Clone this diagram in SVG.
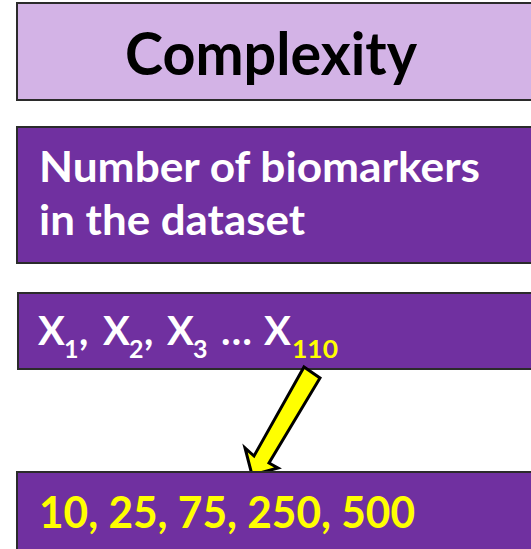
<svg xmlns="http://www.w3.org/2000/svg" width="531" height="549" viewBox="0 0 531 549">
<style>
.box{stroke:#2b2b2b;stroke-width:2}
.t{font-family:Lato,"Open Sans","Liberation Sans",sans-serif;font-weight:bold}
.w{fill:#ffffff}
.y{fill:#ffff00}
.s{font-size:25px}
</style>
<rect width="531" height="549" fill="#ffffff"/>
<g id="complexity">
<rect class="box" x="17" y="3" width="530" height="97" fill="#D3B3E6"/>
<text class="t" x="125" y="75" font-size="60" fill="#000000" textLength="292" lengthAdjust="spacingAndGlyphs">Complexity</text>
</g>
<g id="number-biomarkers">
<rect class="box" x="17" y="127" width="530" height="136" fill="#7030A0"/>
<text class="t w" x="39" y="182" font-size="42" textLength="441" lengthAdjust="spacingAndGlyphs">Number of biomarkers</text>
<text class="t w" x="39" y="235" font-size="42" textLength="266" lengthAdjust="spacingAndGlyphs">in the dataset</text>
</g>
<g id="variables">
<rect class="box" x="18" y="293" width="530" height="76" fill="#7030A0"/>
<text class="t w" font-size="40">
<tspan x="38" y="345">X</tspan><tspan x="64" y="358" class="s">1</tspan><tspan x="79" y="345">,</tspan><tspan x="103" y="345">X</tspan><tspan x="129" y="358" class="s">2</tspan><tspan x="144" y="345">,</tspan><tspan x="167" y="345">X</tspan><tspan x="193" y="358" class="s">3</tspan><tspan x="221" y="345">…</tspan><tspan x="264" y="345">X</tspan><tspan x="292" y="358" class="s y" textLength="46" lengthAdjust="spacingAndGlyphs">110</tspan>
</text>
</g>
<g id="connectors">
<polygon points="304,367 320,378 269,463 278,468 252,475 245,448 254,456" fill="#ffff00" stroke="#000000" stroke-width="3" stroke-linejoin="miter"/>
</g>
<g id="values">
<rect class="box" x="17" y="472" width="530" height="90" fill="#7030A0"/>
<text class="t y" x="39" y="528" font-size="43" textLength="376" lengthAdjust="spacingAndGlyphs">10, 25, 75, 250, 500</text>
</g>
</svg>
